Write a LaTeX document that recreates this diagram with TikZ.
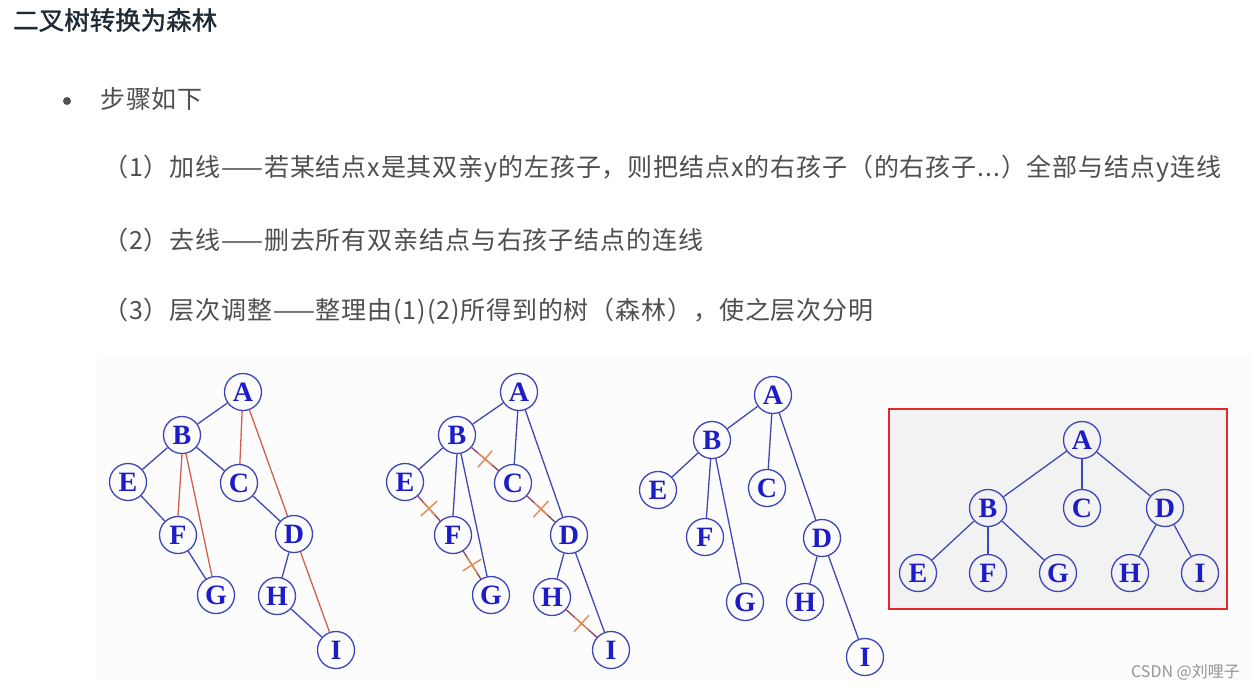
\documentclass[tikz,border=0pt]{standalone}
\usepackage{fontspec}
\setmainfont{Liberation Serif}
\newfontfamily\cjk[LetterSpace=3.5]{Noto Sans CJK SC}
\newfontfamily\cjkplain{Noto Sans CJK SC}
\newfontfamily\cjktitle[FakeBold=1.2]{Noto Sans CJK SC}
\definecolor{nodeblue}{HTML}{3D46B8}
\definecolor{lettblue}{HTML}{1C1CC8}
\definecolor{edgeblue}{HTML}{4049B2}
\definecolor{edgered}{HTML}{D2604C}
\definecolor{rmvline}{HTML}{8E3E62}
\definecolor{crossor}{HTML}{E38A52}
\definecolor{boxred}{HTML}{E02A2A}
\definecolor{boxfill}{HTML}{F2F2F2}
\definecolor{txtgray}{HTML}{4F4F4F}
\definecolor{titlecol}{HTML}{1E2A36}
\definecolor{panelbg}{HTML}{FCFCFC}
\begin{document}
\begin{tikzpicture}[x=1pt,y=-1pt,
  nd/.style={circle,draw=nodeblue,line width=1.3pt,minimum size=37pt,inner sep=0pt,
    font=\fontsize{28}{28}\selectfont\bfseries,text=lettblue},
  bluedge/.style={draw=edgeblue,line width=1.3pt},
  rededge/.style={draw=edgered,line width=1.3pt},
  rmline/.style={draw=rmvline,line width=1.3pt},
  crossmk/.style={minimum width=22pt,minimum height=22pt,inner sep=0pt,sloped,
    path picture={\draw[crossor,line width=1.4pt]
      ([yshift=-11pt]path picture bounding box.center) -- ([yshift=11pt]path picture bounding box.center);
      \draw[crossor,line width=1.4pt]
      ([xshift=-9pt]path picture bounding box.center) -- ([xshift=9pt]path picture bounding box.center);}},
  body/.style={anchor=west,font=\cjk\fontsize{25}{25}\selectfont,text=txtgray,inner sep=0pt}
]
\useasboundingbox (0,0) rectangle (1255,694);
\fill[white] (0,0) rectangle (1255,694);
\fill[panelbg] (97,354) rectangle (1250,680);

% texts
\node[anchor=west,inner sep=0pt,font=\cjktitle\fontsize{25.5}{25.5}\selectfont,text=titlecol] (title) at (13,20) {二叉树转换为森林};
\fill[txtgray] (67,101) circle (4);
\node[body] (steps) at (100,99) {步骤如下};
\node[body] (l1) at (103,169) {（1）加线——若某结点x是其双亲y的左孩子，则把结点x的右孩子（的右孩子...）全部与结点y连线};
\node[body] (l2) at (103,240) {（2）去线——删去所有双亲结点与右孩子结点的连线};
\node[body] (l3) at (103,311) {（3）层次调整——整理由(1)(2)所得到的树（森林），使之层次分明};

% tree 1
\node[nd] (a1) at (243,392) {A};
\node[nd] (b1) at (182,435) {B};
\node[nd] (e1) at (128,482) {E};
\node[nd] (c1) at (239,483) {C};
\node[nd] (f1) at (178,535) {F};
\node[nd] (d1) at (294,534) {D};
\node[nd] (g1) at (216,595) {G};
\node[nd] (h1) at (277,596) {H};
\node[nd] (i1) at (336,650) {I};
\draw[bluedge] (a1) -- (b1);
\draw[bluedge] (b1) -- (e1);
\draw[bluedge] (b1) -- (c1);
\draw[bluedge] (e1) -- (f1);
\draw[bluedge] (f1) -- (g1);
\draw[bluedge] (c1) -- (d1);
\draw[bluedge] (d1) -- (h1);
\draw[bluedge] (h1) -- (i1);
\draw[rededge] (a1) -- (c1);
\draw[rededge] (a1) -- (d1);
\draw[rededge] (b1.south) -- (f1.north);
\draw[rededge] (b1) -- (g1);
\draw[rededge] (d1) -- (i1);

% tree 2
\node[nd] (a2) at (519,392) {A};
\node[nd] (b2) at (457,435) {B};
\node[nd] (e2) at (405,482) {E};
\node[nd] (c2) at (513,483) {C};
\node[nd] (f2) at (453,535) {F};
\node[nd] (d2) at (569,535) {D};
\node[nd] (g2) at (491,595) {G};
\node[nd] (h2) at (552,597) {H};
\node[nd] (i2) at (611,650) {I};
\draw[bluedge] (a2) -- (b2);
\draw[bluedge] (b2) -- (e2);
\draw[bluedge] (a2) -- (c2);
\draw[bluedge] (a2) -- (d2);
\draw[bluedge] (b2.south) -- (f2.north);
\draw[bluedge] (b2) -- (g2);
\draw[bluedge] (d2) -- (h2);
\draw[bluedge] (d2) -- (i2);
\draw[rmline] (b2) -- node[crossmk]{} (c2);
\draw[rmline] (e2) -- node[crossmk]{} (f2);
\draw[rmline] (f2) -- node[crossmk]{} (g2);
\draw[rmline] (c2) -- node[crossmk]{} (d2);
\draw[rmline] (h2) -- node[crossmk]{} (i2);

% tree 3
\node[nd] (a3) at (773,395) {A};
\node[nd] (b3) at (712,440) {B};
\node[nd] (e3) at (658,490) {E};
\node[nd] (c3) at (767,488) {C};
\node[nd] (f3) at (705,537) {F};
\node[nd] (d3) at (822,538) {D};
\node[nd] (g3) at (745,602) {G};
\node[nd] (h3) at (805,602) {H};
\node[nd] (i3) at (865,657) {I};
\draw[bluedge] (a3) -- (b3);
\draw[bluedge] (a3) -- (c3);
\draw[bluedge] (a3) -- (d3);
\draw[bluedge] (b3) -- (e3);
\draw[bluedge] (b3) -- (f3);
\draw[bluedge] (b3) -- (g3);
\draw[bluedge] (d3) -- (h3);
\draw[bluedge] (d3) -- (i3);

% tree 4 (framed)
\draw[boxred,fill=boxfill,line width=2.6pt] (889,409) rectangle (1227,609);
\node[nd] (a4) at (1082,440) {A};
\node[nd] (b4) at (988,508) {B};
\node[nd] (c4) at (1082,508) {C};
\node[nd] (d4) at (1165,508) {D};
\node[nd] (e4) at (918,573) {E};
\node[nd] (f4) at (988,573) {F};
\node[nd] (g4) at (1058,573) {G};
\node[nd] (h4) at (1130,573) {H};
\node[nd] (i4) at (1200,573) {I};
\draw[bluedge] (a4) -- (b4);
\draw[bluedge] (a4) -- (c4);
\draw[bluedge] (a4) -- (d4);
\draw[bluedge] (b4) -- (e4);
\draw[bluedge] (b4) -- (f4);
\draw[bluedge] (b4) -- (g4);
\draw[bluedge] (d4) -- (h4);
\draw[bluedge] (d4) -- (i4);

% watermark
\node[anchor=east,inner sep=0pt,font=\cjkplain\fontsize{16}{16}\selectfont,text=black!42] (wm) at (1240,672) {CSDN @刘哩子};
\end{tikzpicture}
\end{document}
